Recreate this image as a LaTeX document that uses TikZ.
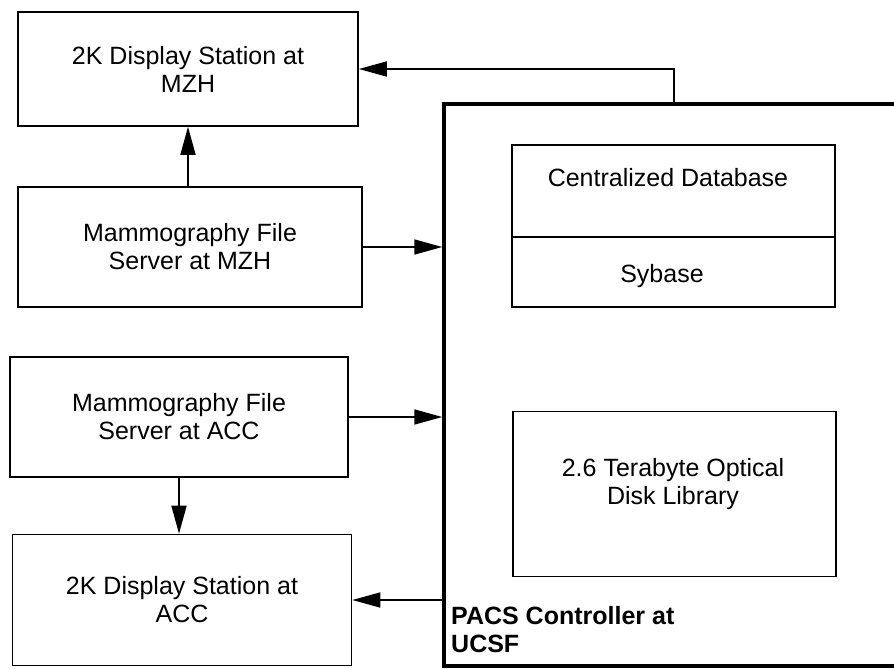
\documentclass[tikz,border=0pt]{standalone}
\usepackage{fontspec}
\setmainfont{Liberation Sans}
\usetikzlibrary{arrows.meta}

\tikzset{
	box/.style={draw, line width=1.6pt, inner sep=0pt, align=center, font=\fontsize{25}{28}\selectfont},
	conn/.style={line width=1.6pt, -{Triangle[length=28pt,width=15pt]}},
}

\begin{document}
\begin{tikzpicture}[x=1pt, y=-1pt]
		%%%%% START %%%%%
		\useasboundingbox (0,0) rectangle (894,669);
		\clip (0,0) rectangle (894,669);
		
		\node[box, minimum width=340pt, minimum height=114pt] (dispM) at (188,69) {2K Display Station at\\MZH};
		\node[box, minimum width=344pt, minimum height=120pt] (servM) at (190,247) {Mammography File\\Server at MZH};
		\node[box, minimum width=338pt, minimum height=120pt] (servA) at (179,417) {Mammography File\\Server at ACC};
		\node[box, minimum width=339pt, minimum height=131pt] (dispA) at (182,600) {2K Display Station at\\ACC};
		
		\node[draw, line width=3.5pt, inner sep=0pt, minimum width=470pt, minimum height=562pt] (pacs) at (679,385) {};
		\node[anchor=north west, inner sep=0pt, align=left, font=\fontsize{25}{28}\selectfont\bfseries] (pacsname) at (451,606) {PACS Controller at\\UCSF};
		
		\node[box, minimum width=323pt, minimum height=162pt] (db) at (673.5,226) {};
		\draw[line width=1.6pt] (db.west |- 0,237) -- (db.east |- 0,237);
		\node[font=\fontsize{25}{28}\selectfont, inner sep=0pt] (dbname) at (668,178) {Centralized Database};
		\node[font=\fontsize{25}{28}\selectfont, inner sep=0pt] (sybase) at (662,276) {Sybase};
		
		\node[box, minimum width=323pt, minimum height=165pt] (disk) at (674.5,494) {};
		\node[font=\fontsize{25}{28}\selectfont, inner sep=0pt, align=center] (diskname) at (673,484) {2.6 Terabyte Optical\\Disk Library};
		
		\coordinate (tap) at (674,104);
		\draw[conn] (tap) |- (dispM.east);
		\draw[conn] (servM.north -| dispM.south) -- (dispM.south);
		\draw[conn] (servM.east) -- (servM.east -| pacs.west);
		\draw[conn] (servA.east) -- (servA.east -| pacs.west);
		\draw[conn] (servA.south) -- (servA.south |- dispA.north);
		\draw[conn] (dispA.east -| pacs.west) -- (dispA.east);
		%%%%% END %%%%%
\end{tikzpicture}
\end{document}
